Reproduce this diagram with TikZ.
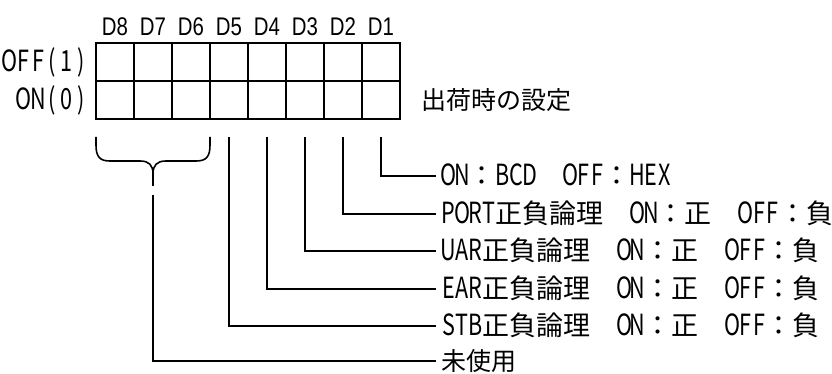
\documentclass[tikz,border=0pt]{standalone}
\usepackage{fontspec}
\newfontfamily\jp{Noto Sans CJK JP}
\newfontfamily\jplat[FakeStretch=0.74,Scale=1.08]{Noto Sans CJK JP}
\newfontfamily\dlab[FakeStretch=0.8]{Liberation Sans}
\newcommand\hwc{13.5pt}
\makeatletter
\newcommand\hw[1]{{\jplat\@tfor\hwch:=#1\do{\makebox[\hwc]{\hwch}}}}
\makeatother
\begin{document}
\begin{tikzpicture}[x=1pt,y=-1pt,line width=1.6pt,
  cell/.style={draw,minimum width=38pt,minimum height=38pt,inner sep=0pt,line width=1.6pt},
  dl/.style={inner sep=0pt,font=\dlab\fontsize{25.5}{28}\selectfont},
  side/.style={anchor=east,inner sep=0pt,font=\jp\fontsize{27}{30}\selectfont},
  lbl/.style={anchor=west,inner xsep=5pt,inner ysep=0pt,font=\jp\fontsize{27}{30}\selectfont,text height=21pt,text depth=1.5pt},
  conn/.style={line width=1.6pt}]
\useasboundingbox (0,0) rectangle (832,374);
% switch cells and column labels
\foreach \i in {1,...,8}{
  \node[cell] (off\i) at ({381-38*(\i-1)},62) {};
  \node[cell] (on\i) at ({381-38*(\i-1)},100) {};
  \node[dl] (d\i) at ({381-38*(\i-1)},27) {D\i};
}
\node[side] (offl) at (89,62) {\renewcommand\hwc{14.3pt}\hw{OFF(1)}};
\node[side] (onl) at (89,100) {\renewcommand\hwc{14.3pt}\hw{ON(0)}};
\node[anchor=west,inner sep=0pt,font=\jp\fontsize{25}{30}\selectfont] (ship) at (421,100) {出荷時の設定};
% labels
\node[lbl] (t1) at (436,176) {\hw{ON}：\hw{BCD}　\hw{OFF}：\hw{HEX}};
\node[lbl] (t2) at (436,214) {\hw{PORT}正負論理　\hw{ON}：正　\hw{OFF}：負};
\node[lbl] (t3) at (436,251) {\hw{UAR}正負論理　\hw{ON}：正　\hw{OFF}：負};
\node[lbl] (t4) at (436,289) {\hw{EAR}正負論理　\hw{ON}：正　\hw{OFF}：負};
\node[lbl] (t5) at (436,326) {\hw{STB}正負論理　\hw{ON}：正　\hw{OFF}：負};
\node[lbl,font=\jp\fontsize{25}{30}\selectfont] (t6) at (436,361) {未使用};
% connector starts
\foreach \i in {1,...,5}{
  \coordinate (s\i) at ({381-38*(\i-1)},137);
  \draw[conn] (s\i) |- (t\i.west);
}
% brace over D8..D6
\coordinate (btip) at (153,186);
\draw[conn] (96,137) -- (96,145) .. controls (96,157) and (100,161) .. (110,161) -- (140,161) .. controls (149,161) and (153,165) .. (153,174) -- (btip);
\draw[conn] (210,137) -- (210,145) .. controls (210,157) and (206,161) .. (196,161) -- (166,161) .. controls (157,161) and (153,165) .. (153,174);
\coordinate (b0) at (153,195);
\draw[conn] (b0) |- (t6.west);
\end{tikzpicture}
\end{document}
